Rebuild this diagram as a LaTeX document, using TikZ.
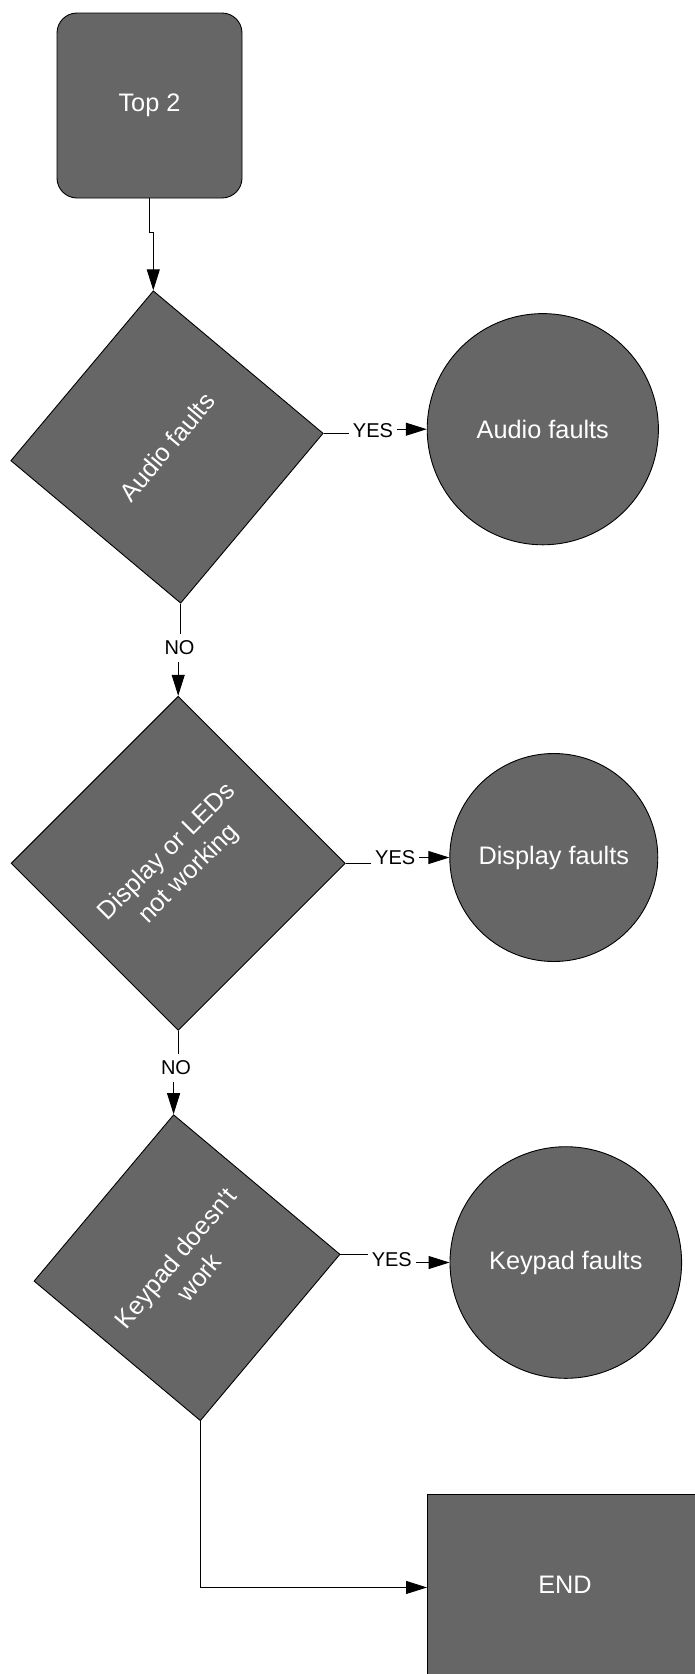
\documentclass[tikz,border=0pt]{standalone}
\usepackage{fontspec}
\setmainfont{Liberation Sans}
\usetikzlibrary{arrows.meta}
\definecolor{shapegray}{HTML}{666666}
\begin{document}
\begin{tikzpicture}[x=1pt,y=-1pt,
  shapebase/.style={draw=black, line width=0.9pt, fill=shapegray, text=white,
    font=\fontsize{25.3}{31}\selectfont, align=center, inner sep=0pt},
  startbox/.style={shapebase, rectangle, rounded corners=20pt, minimum width=185, minimum height=185},
  decision/.style={shapebase, rectangle},
  outcome/.style={shapebase, circle},
  endbox/.style={shapebase, rectangle},
  boxtext/.style={text=white, font=\fontsize{25.3}{31}\selectfont, inner sep=0pt},
  conn/.style={draw=black, line width=0.9pt, -{Triangle[length=21pt,width=13pt]}},
  lbl/.style={fill=white, text=black, font=\fontsize{20}{24}\selectfont, inner xsep=4pt, inner ysep=7pt}
]
\useasboundingbox (0,0) rectangle (695,1674);
\clip (0,0) rectangle (695,1674);

\node[startbox] (top) at (149.5,105.5) {Top 2};
\node[decision, rotate=50, minimum size=221.5] (d1) at (167,447) {Audio faults};
\node[outcome, minimum size=231.2] (c1) at (542.8,429.2) {Audio faults};
\node[decision, rotate=45, minimum size=236] (d2) at (178.2,863.3) {Display or LEDs\\not working};
\node[outcome, minimum size=208] (c2) at (553.8,857.5) {Display faults};
\node[decision, rotate=50, minimum size=217] (d3) at (187,1267.7) {Keypad doesn\textquotesingle t\\work};
\node[outcome, minimum size=231.6] (c3) at (565.8,1262.5) {Keypad faults};
\node[endbox, anchor=north west, minimum width=330, minimum height=186] (end) at (427,1494) {};
\node[boxtext] (endtext) at (565,1585) {END};

\draw[conn] (top.south) -- ++(0,34) -| (d1.north east);

\draw[conn] (d1.south east) -- ++(50,0) |- (c1.west);
\node[lbl] (yes1) at (373,431) {YES};

\draw[conn] (d1.south west) -- ++(0,45) -| (d2.north east);
\node[lbl] (no1) at (179.5,648) {NO};

\draw[conn] (d2.south east) -- ++(50,0) |- (c2.west);
\node[lbl] (yes2) at (395.2,858) {YES};

\draw[conn] (d2.south west) -- ++(0,38) -| (d3.north east);
\node[lbl] (no2) at (176,1068) {NO};

\draw[conn] (d3.south east) -- ++(52,0) |- (c3.west);
\node[lbl] (yes3) at (391.8,1260) {YES};

\draw[conn] (d3.south west) |- (end.west);
\end{tikzpicture}
\end{document}
